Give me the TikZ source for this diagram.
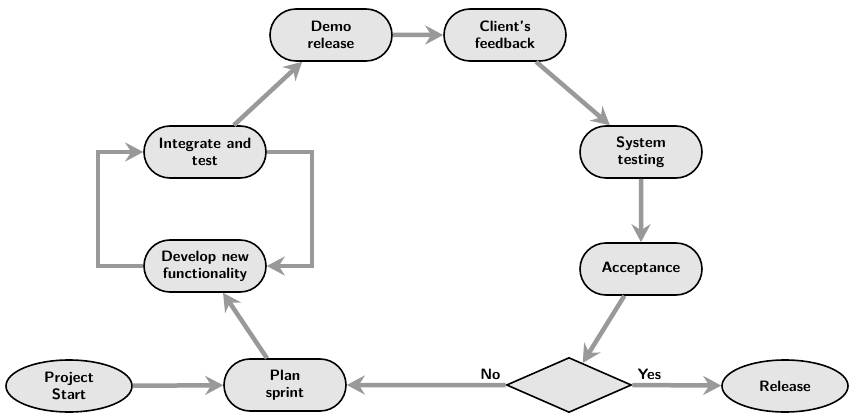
\documentclass[tikz,border=0pt]{standalone}
\usetikzlibrary{shapes.misc,shapes.geometric,arrows.meta}
\begin{document}
\begin{tikzpicture}[x=1pt,y=-1pt,
  every node/.style={font=\fontsize{15}{17}\selectfont\sffamily\bfseries, align=center},
  box/.style={rounded rectangle, draw=black, line width=1.6pt, fill=black!10,
    minimum width=126pt, minimum height=52pt, inner sep=2pt},
  oval/.style={ellipse, draw=black, line width=1.6pt, fill=black!10,
    minimum width=126pt, minimum height=52pt, inner sep=1pt},
  decision/.style={diamond, draw=black, line width=1.6pt, fill=black!10,
    minimum width=125pt, minimum height=55pt, inner sep=0pt},
  flow/.style={draw=black!40, line width=4.5pt,
    -{Stealth[length=18pt,width=19pt,inset=6pt]}}]
  \useasboundingbox (0,0) rectangle (849,414);

  % nodes
  \node[oval] (start) at (69,386) {Project\\Start};
  \node[box] (plan) at (285,385) {Plan\\sprint};
  \node[box] (dev) at (205,266) {Develop new\\functionality};
  \node[box] (integ) at (205,152) {Integrate and\\test};
  \node[box] (demo) at (331,35) {Demo\\release};
  \node[box] (client) at (505,35) {Client's\\feedback};
  \node[box] (systest) at (641,152) {System\\testing};
  \node[box] (accept) at (641,269) {Acceptance};
  \node[decision] (dec) at (569,385) {};
  \node[oval] (release) at (785,386) {Release};

  % connectors
  \draw[flow] (start) -- (plan);
  \draw[flow] (plan) -- (dev);
  \draw[flow] (dev.west) -- ++(-45,0) |- (integ.west);
  \draw[flow] (integ.east) -- ++(45,0) |- (dev.east);
  \draw[flow] (integ) -- (demo);
  \draw[flow] (demo) -- (client);
  \draw[flow] (client) -- (systest);
  \draw[flow] (systest) -- (accept);
  \draw[flow] (accept) -- (dec);
  \draw[flow] (dec.west) -- node[pos=0, above left, inner sep=3pt] {No} (plan);
  \draw[flow] (dec.east) -- node[pos=0, above right, inner sep=3pt] {Yes} (release);
\end{tikzpicture}
\end{document}
